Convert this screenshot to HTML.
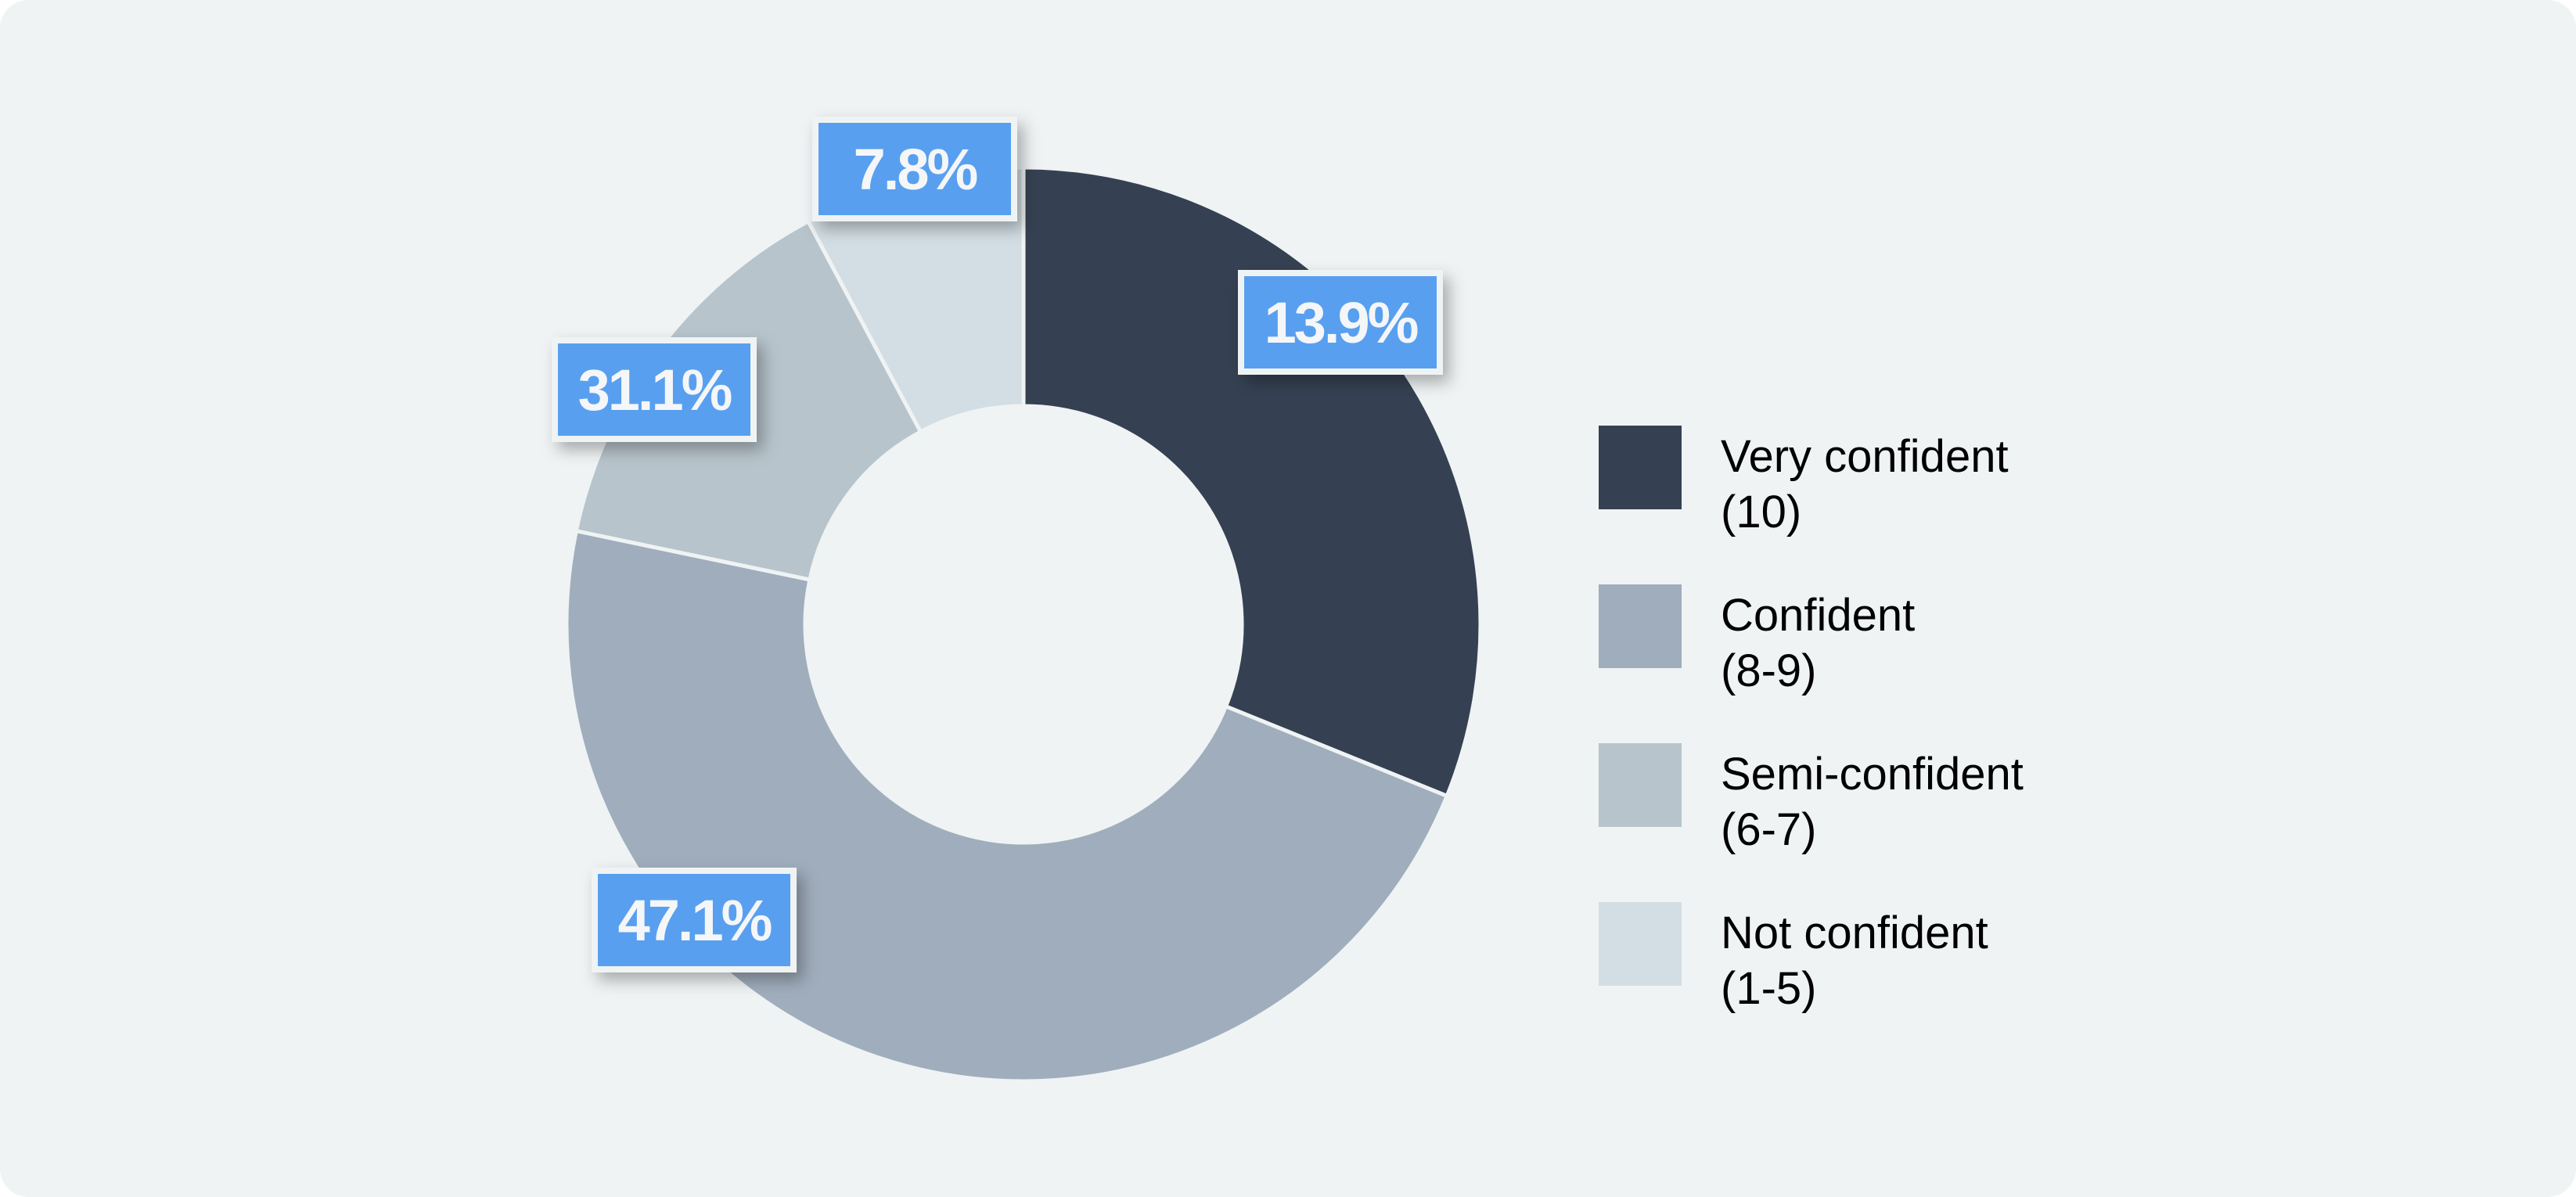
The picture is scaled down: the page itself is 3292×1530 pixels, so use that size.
<!DOCTYPE html>
<html><head><meta charset="utf-8"><style>
html,body{margin:0;padding:0;background:#ffffff;}
#card{position:absolute;left:0;top:0;width:3292px;height:1530px;background:#eff3f4;border-radius:36px;}
svg{position:absolute;left:0;top:0;}
text{font-family:"Liberation Sans",sans-serif;}
</style></head><body>
<div id="card"></div>
<svg id="chart" width="3292" height="1530">
<defs><filter id="sh" x="-20%" y="-20%" width="150%" height="160%"><feDropShadow dx="8" dy="10" stdDeviation="10" flood-color="#000" flood-opacity="0.3"/></filter></defs>
<g id="slices"></g><g id="labels"></g><g id="legend"></g>
</svg>
<script>
const categories = ["Very confident", "Confident", "Semi-confident", "Not confident"];
const ranges = ["(10)", "(8-9)", "(6-7)", "(1-5)"];
const values = [31.1, 47.1, 13.9, 7.8];
const labelTexts = ["13.9%", "47.1%", "31.1%", "7.8%"];
const colors = ["#354152", "#a0adbc", "#b7c4cb", "#d3dee4"];
const boxCenters = [[1713, 412], [887, 1176], [836, 498], [1169, 216]];

const NS = "http://www.w3.org/2000/svg";
const cx = 1308, cy = 798, R = 584, r = 279;
const total = values.reduce((a, b) => a + b, 0);
function pt(angDeg, rad) { const a = angDeg * Math.PI / 180; return [cx + rad * Math.sin(a), cy - rad * Math.cos(a)]; }
function angle(v) { return v / total * 360; }
const sg = document.getElementById("slices");
let acc = 0;
values.forEach((v, i) => {
  const a0 = angle(acc), a1 = angle(acc + v); acc += v;
  const large = (a1 - a0) > 180 ? 1 : 0;
  const p0 = pt(a0, R), p1 = pt(a1, R), q1 = pt(a1, r), q0 = pt(a0, r);
  const p = document.createElementNS(NS, "path");
  p.setAttribute("d", `M${p0[0]},${p0[1]} A${R},${R} 0 ${large} 1 ${p1[0]},${p1[1]} L${q1[0]},${q1[1]} A${r},${r} 0 ${large} 0 ${q0[0]},${q0[1]} Z`);
  p.setAttribute("fill", colors[i]);
  p.setAttribute("stroke", "#eff3f4");
  p.setAttribute("stroke-width", "5");
  
  
  sg.appendChild(p);
});
const lg = document.getElementById("labels");
labelTexts.forEach((t, i) => {
  const [bx, by] = boxCenters[i];
  const g = document.createElementNS(NS, "g");
  
  
  const rect = document.createElementNS(NS, "rect");
  rect.setAttribute("x", bx - 127); rect.setAttribute("y", by - 63);
  rect.setAttribute("width", 254); rect.setAttribute("height", 126);
  rect.setAttribute("fill", "#589ff0"); rect.setAttribute("stroke", "#eff3f4"); rect.setAttribute("stroke-width", "8");
  rect.setAttribute("filter", "url(#sh)");
  g.appendChild(rect);
  const tx = document.createElementNS(NS, "text");
  tx.setAttribute("x", bx); tx.setAttribute("y", by + 26);
  tx.setAttribute("text-anchor", "middle"); tx.setAttribute("font-size", "74");
  tx.setAttribute("font-weight", "bold"); tx.setAttribute("fill", "#f4f6f8");
  tx.setAttribute("letter-spacing", "-3");
  tx.textContent = t;
  g.appendChild(tx);
  lg.appendChild(g);
});
const leg = document.getElementById("legend");
categories.forEach((c, i) => {
  const y = 544 + i * 203;
  const g = document.createElementNS(NS, "g");
  
  
  const s = document.createElementNS(NS, "rect");
  s.setAttribute("x", 2043); s.setAttribute("y", y); s.setAttribute("width", 106); s.setAttribute("height", 107);
  s.setAttribute("fill", colors[i]);
  g.appendChild(s);
  [c, ranges[i]].forEach((line, j) => {
    const t = document.createElementNS(NS, "text");
    t.setAttribute("x", 2199); t.setAttribute("y", y + 59 + j * 71);
    t.setAttribute("font-size", "58"); t.setAttribute("fill", "#000");
    t.textContent = line;
    g.appendChild(t);
  });
  leg.appendChild(g);
});
</script>
</body></html>
